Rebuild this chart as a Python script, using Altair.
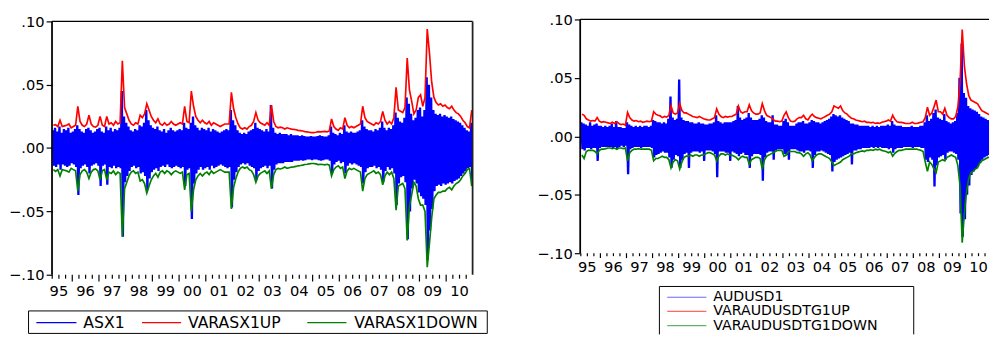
import altair as alt
import pandas as pd

FONT = "DejaVu Sans"
BLUE, RED, GREEN = "#0000FF", "#FF0000", "#008000"

# monthly observation points, Apr 1995 ... Dec 2010 (x in fractional years)
N_MONTHS = 189
month_x = [1995 + (3 + i + 0.5) / 12 for i in range(N_MONTHS)]
YEARS = list(range(1995, 2011))
YEAR_LABELS = ["95", "96", "97", "98", "99", "00", "01", "02",
               "03", "04", "05", "06", "07", "08", "09", "10"]
Y_TICKS = [-0.10, -0.05, 0.00, 0.05, 0.10]

# ---------------- left panel: ASX ----------------
asx_up = [
    .018, .0185, .017, .022, .017, .0175, .018, .019, .016,
    .017, .018, .033, .021, .018, .017, .019, .026, .019, .017, .0165, .018,
    .025, .018, .017, .025, .019, .020, .018, .021, .019, .020, .069, .032,
    .027, .022, .019, .018, .020, .019, .026, .024, .027, .035, .030, .025,
    .022, .020, .023, .019, .018, .020, .018, .019, .021, .019, .018, .019,
    .020, .019, .033, .021, .020, .045, .033, .025, .022, .020, .022, .020,
    .019, .021, .018, .020, .019, .018, .017, .018, .019, .019, .019, .044,
    .031, .024, .019, .016, .015, .016, .015, .017, .018, .021, .028, .022,
    .020, .019, .018, .020, .018, .034, .021, .017, .016, .0165, .016, .015,
    .016, .0155, .015, .0148, .0145, .014, .0138, .0135, .013, .0128, .0125, .0122,
    .0122, .0125, .013, .0128, .013, .0132, .0128, .0135, .023, .017, .015, .014,
    .016, .015, .024, .018, .016, .017, .016, .017, .018, .019, .033, .024,
    .021, .020, .019, .018, .020, .019, .021, .029, .022, .019, .021, .019,
    .024, .048, .030, .029, .028, .032, .071, .046, .037, .027, .030, .040,
    .042, .033, .040, .094, .075, .052, .040, .036, .034, .035, .033, .034,
    .032, .031, .033, .030, .028, .027, .025, .022, .020, .017, .016, .030,
]
asx_down = [
    -.017, -.0185, -.017, -.022, -.017, -.0175, -.018, -.019, -.016,
    -.017, -.018, -.034, -.021, -.018, -.017, -.019, -.024, -.019, -.017, -.0165, -.018,
    -.025, -.018, -.017, -.025, -.019, -.020, -.018, -.021, -.019, -.020, -.070, -.032,
    -.027, -.022, -.019, -.018, -.020, -.019, -.026, -.025, -.028, -.0355, -.030, -.025,
    -.022, -.020, -.023, -.019, -.018, -.020, -.018, -.019, -.021, -.019, -.018, -.019,
    -.020, -.019, -.033, -.021, -.020, -.050, -.033, -.025, -.022, -.020, -.022, -.020,
    -.019, -.021, -.018, -.020, -.019, -.018, -.017, -.018, -.019, -.019, -.019, -.048,
    -.031, -.024, -.019, -.016, -.015, -.016, -.015, -.017, -.018, -.021, -.027, -.022,
    -.020, -.019, -.018, -.020, -.018, -.032, -.021, -.017, -.016, -.0165, -.016, -.015,
    -.016, -.0155, -.015, -.0148, -.0145, -.014, -.0138, -.0135, -.013, -.0128, -.0125, -.0122,
    -.0122, -.0125, -.013, -.0128, -.013, -.0132, -.0128, -.0135, -.022, -.017, -.015, -.014,
    -.016, -.015, -.024, -.018, -.016, -.017, -.016, -.017, -.018, -.019, -.034, -.024,
    -.021, -.020, -.019, -.018, -.020, -.019, -.021, -.029, -.022, -.019, -.021, -.019,
    -.024, -.049, -.030, -.029, -.028, -.032, -.073, -.046, -.037, -.027, -.030, -.040,
    -.045, -.045, -.050, -.094, -.075, -.055, -.040, -.037, -.035, -.035, -.034, -.034,
    -.032, -.031, -.033, -.030, -.028, -.027, -.025, -.022, -.020, -.017, -.016, -.030,
]
asx_hi = [
    .014, .016, .013, .017, .012, .015, .014, .016, .012,
    .013, .015, .018, .015, .013, .012, .015, .016, .014, .012, .013, .015,
    .016, .013, .012, .017, .014, .016, .013, .015, .014, .016, .045, .025,
    .020, .017, .014, .013, .015, .014, .018, .017, .020, .030, .022, .018,
    .016, .015, .017, .014, .013, .015, .012, .014, .016, .014, .013, .014,
    .015, .014, .020, .016, .015, .020, .025, .018, .016, .014, .016, .015,
    .014, .016, .013, .015, .014, .013, .012, .013, .014, .015, .014, .030,
    .022, .018, .014, .012, .011, .012, .011, .013, .014, .015, .020, .016,
    .015, .014, .013, .015, .013, .034, .016, .012, .011, .012, .011, .011,
    .011, .010, .011, .010, .010, .010, .0095, .010, .0095, .009, .009, .0095,
    .009, .009, .0095, .010, .0095, .009, .009, .010, .017, .012, .011, .010,
    .012, .011, .018, .013, .012, .013, .012, .012, .013, .014, .022, .017,
    .015, .014, .014, .013, .015, .014, .016, .021, .016, .014, .016, .015,
    .018, .028, .024, .021, .020, .024, .040, .035, .027, .022, .024, .030,
    .032, .025, .030, .056, .050, .040, .030, .027, .026, .027, .025, .026,
    .025, .024, .025, .023, .022, .021, .020, .018, .016, .014, .013, .020,
]
asx_lo = [
    -.014, -.015, -.013, -.017, -.013, -.014, -.015, -.014, -.012,
    -.013, -.015, -.037, -.016, -.014, -.013, -.015, -.020, -.014, -.013, -.012, -.014,
    -.030, -.014, -.013, -.029, -.015, -.016, -.014, -.016, -.015, -.016, -.070, -.027,
    -.022, -.018, -.015, -.014, -.016, -.015, -.020, -.019, -.022, -.033, -.024, -.019,
    -.017, -.016, -.018, -.015, -.014, -.015, -.013, -.015, -.016, -.015, -.014, -.015,
    -.016, -.015, -.030, -.017, -.016, -.056, -.028, -.020, -.017, -.015, -.017, -.016,
    -.015, -.017, -.014, -.016, -.015, -.014, -.013, -.014, -.015, -.016, -.015, -.047,
    -.025, -.019, -.015, -.013, -.012, -.013, -.012, -.014, -.015, -.016, -.025, -.018,
    -.016, -.015, -.014, -.016, -.014, -.032, -.017, -.013, -.012, -.012, -.012, -.011,
    -.011, -.011, -.011, -.010, -.010, -.010, -.0095, -.010, -.0095, -.009, -.009, -.0095,
    -.009, -.009, -.0095, -.010, -.0095, -.009, -.009, -.010, -.020, -.013, -.011, -.010,
    -.012, -.011, -.020, -.014, -.012, -.013, -.012, -.013, -.014, -.015, -.028, -.019,
    -.016, -.015, -.015, -.014, -.016, -.015, -.017, -.027, -.018, -.015, -.017, -.016,
    -.020, -.045, -.028, -.023, -.022, -.027, -.072, -.050, -.032, -.025, -.028, -.035,
    -.038, -.040, -.045, -.088, -.065, -.048, -.034, -.030, -.029, -.030, -.028, -.029,
    -.028, -.027, -.028, -.026, -.025, -.024, -.022, -.020, -.018, -.016, -.015, -.025,
]

# ---------------- right panel: AUD/USD ----------------
aud_up = [
    .019, .018, .015, .014, .013, .0135, .013, .016, .013,
    .012, .0125, .012, .0115, .011, .012, .011, .0125, .011, .010, .0105, .0095,
    .0205, .016, .014, .013, .0135, .0125, .013, .012, .0125, .013, .0125, .013,
    .021, .019, .018, .0175, .016, .017, .0165, .018, .026, .020, .019, .020,
    .028, .022, .020, .020, .019, .018, .017, .0165, .016, .017, .016, .015,
    .0145, .014, .014, .015, .016, .0235, .019, .017, .016, .017, .0165, .017,
    .017, .018, .019, .026, .021, .020, .021, .021, .027, .022, .020, .019,
    .019, .020, .028, .022, .018, .017, .016, .0145, .013, .013, .0125, .013,
    .018, .021, .016, .013, .0125, .013, .015, .016, .016, .018, .015, .014,
    .017, .019, .017, .016, .0155, .015, .016, .017, .018, .019, .021, .026,
    .025, .024, .026, .022, .020, .019, .017, .0155, .015, .014, .0135, .013,
    .0125, .013, .012, .012, .0115, .012, .011, .0115, .011, .012, .0125, .013,
    .014, .013, .018, .0145, .0125, .012, .012, .0115, .011, .011, .011, .012,
    .011, .011, .0115, .012, .0125, .016, .025, .018, .020, .025, .031, .021,
    .021, .019, .024, .018, .016, .015, .015, .017, .025, .046, .0913, .060,
    .045, .035, .031, .030, .029, .028, .025, .022, .021, .020, .019, .018,
]
aud_down = [
    -.016, -.019, -.013, -.012, -.012, -.012, -.013, -.015, -.012,
    -.011, -.011, -.0105, -.010, -.010, -.0105, -.010, -.011, -.010, -.010, -.0105, -.010,
    -.021, -.014, -.012, -.011, -.011, -.0105, -.011, -.011, -.011, -.011, -.011, -.012,
    -.021, -.019, -.019, -.018, -.017, -.018, -.018, -.020, -.027, -.022, -.020, -.021,
    -.028, -.022, -.018, -.017, -.017, -.016, -.017, -.016, -.016, -.017, -.016, -.016,
    -.015, -.014, -.014, -.015, -.016, -.021, -.017, -.015, -.015, -.016, -.015, -.016,
    -.016, -.017, -.018, -.020, -.018, -.017, -.018, -.018, -.024, -.020, -.019, -.018,
    -.018, -.019, -.028, -.020, -.017, -.016, -.015, -.014, -.013, -.012, -.012, -.012,
    -.017, -.016, -.013, -.013, -.013, -.013, -.014, -.014, -.015, -.017, -.015, -.014,
    -.016, -.021, -.018, -.016, -.015, -.015, -.016, -.017, -.018, -.019, -.022, -.025,
    -.024, -.023, -.022, -.020, -.019, -.018, -.017, -.015, -.015, -.014, -.0135, -.013,
    -.0125, -.013, -.012, -.012, -.0115, -.012, -.011, -.0115, -.011, -.012, -.0125, -.013,
    -.014, -.013, -.017, -.0145, -.013, -.012, -.012, -.0115, -.011, -.011, -.011, -.011,
    -.011, -.011, -.0115, -.012, -.013, -.022, -.030, -.022, -.024, -.028, -.031, -.022,
    -.021, -.020, -.021, -.018, -.017, -.016, -.017, -.018, -.025, -.0425, -.091, -.066,
    -.047, -.036, -.031, -.030, -.028, -.027, -.023, -.021, -.020, -.019, -.018, -.018,
]
aud_hi = [
    .012, .011, .010, .009, .012, .009, .010, .011, .009,
    .009, .008, .009, .008, .009, .011, .008, .013, .008, .008, .007, .007,
    .012, .010, .009, .008, .009, .008, .009, .008, .009, .009, .008, .009,
    .014, .013, .012, .012, .011, .012, .011, .015, .034, .016, .014, .015,
    .0487, .016, .014, .013, .013, .012, .012, .011, .011, .012, .011, .011,
    .010, .010, .011, .011, .012, .018, .013, .012, .011, .012, .012, .012,
    .012, .013, .014, .026, .016, .014, .015, .016, .020, .016, .014, .014,
    .014, .015, .018, .016, .013, .012, .012, .018, .010, .010, .009, .009,
    .013, .015, .012, .009, .009, .009, .011, .012, .012, .013, .011, .011,
    .012, .014, .013, .012, .012, .011, .012, .013, .014, .015, .017, .019,
    .018, .017, .018, .016, .015, .014, .013, .011, .011, .010, .010, .009,
    .009, .009, .009, .009, .008, .009, .008, .009, .008, .009, .009, .009,
    .010, .009, .013, .010, .009, .009, .009, .008, .008, .008, .008, .009,
    .008, .008, .008, .009, .009, .012, .018, .013, .015, .020, .023, .016,
    .015, .014, .019, .013, .012, .011, .012, .013, .020, .050, .0795, .037,
    .033, .026, .024, .023, .022, .021, .019, .017, .016, .015, .014, .013,
]
aud_lo = [
    -.011, -.012, -.010, -.010, -.011, -.010, -.010, -.021, -.010,
    -.009, -.009, -.009, -.009, -.009, -.010, -.009, -.011, -.009, -.008, -.009, -.008,
    -.0325, -.011, -.010, -.009, -.009, -.009, -.010, -.009, -.009, -.009, -.009, -.010,
    -.018, -.016, -.015, -.014, -.013, -.014, -.014, -.018, -.027, -.020, -.016, -.017,
    -.027, -.020, -.015, -.014, -.027, -.014, -.013, -.013, -.013, -.014, -.013, -.021,
    -.012, -.012, -.012, -.013, -.015, -.035, -.013, -.013, -.013, -.014, -.014, -.021,
    -.013, -.014, -.015, -.017, -.015, -.014, -.016, -.016, -.027, -.017, -.015, -.015,
    -.015, -.016, -.038, -.018, -.014, -.013, -.013, -.020, -.012, -.011, -.011, -.011,
    -.015, -.016, -.020, -.011, -.011, -.011, -.012, -.013, -.013, -.014, -.012, -.012,
    -.013, -.027, -.016, -.013, -.013, -.012, -.013, -.014, -.015, -.016, -.030, -.022,
    -.020, -.019, -.018, -.017, -.016, -.015, -.014, -.024, -.012, -.012, -.011, -.011,
    -.010, -.010, -.010, -.010, -.009, -.010, -.009, -.010, -.009, -.010, -.010, -.010,
    -.011, -.010, -.014, -.011, -.010, -.010, -.010, -.009, -.009, -.009, -.009, -.010,
    -.009, -.009, -.009, -.010, -.010, -.020, -.022, -.018, -.020, -.043, -.025, -.018,
    -.017, -.016, -.020, -.014, -.013, -.013, -.014, -.015, -.020, -.066, -.086, -.071,
    -.050, -.042, -.033, -.030, -.028, -.026, -.023, -.020, -.018, -.017, -.016, -.015,
]

for lst in (asx_up, asx_down, asx_hi, asx_lo, aud_up, aud_down, aud_hi, aud_lo):
    assert len(lst) == N_MONTHS, len(lst)


def series_frame(vals):
    return pd.DataFrame({"x": month_x, "v": vals})


def zigzag_frame(hi, lo):
    xs, vs = [], []
    for x, h, l in zip(month_x, hi, lo):
        xs.extend([x - 1 / 48, x + 1 / 48])
        vs.extend([h, l])
    return pd.DataFrame({"x": xs, "v": vs})


ONE = pd.DataFrame({"k": [0]})


def panel(up, down, hi, lo, width, height, x_domain, y_top, major_len, minor_len,
          label_pad, right_border, legend_layers):
    xs = alt.Scale(domain=x_domain, nice=False, zero=False)
    ys = alt.Scale(domain=[-0.1, y_top], nice=False, zero=False)
    x_enc = alt.X("x:Q", scale=xs, axis=alt.Axis(
        values=[y + 0.5 for y in YEARS], labels=False,
        ticks=False, grid=False, domain=True, domainColor="black",
        domainWidth=1.5, title=None))
    y_enc = alt.Y("v:Q", scale=ys, axis=alt.Axis(
        values=Y_TICKS, labelExpr="replace(format(datum.value, '.2f'), '0.', '.')",
        ticks=True, tickSize=6, tickColor="black", tickWidth=1.2, grid=False,
        domain=False, labelFont=FONT, labelFontSize=15, labelColor="black",
        labelPadding=2, labelOverlap=False, labelFlush=False, title=None))

    blue = alt.Chart(zigzag_frame(hi, lo)).mark_line(
        color=BLUE, strokeWidth=2.4, clip=True).encode(x=x_enc, y=y_enc)
    red = alt.Chart(series_frame(up)).mark_line(
        color=RED, strokeWidth=1.7, clip=True).encode(x=x_enc, y=y_enc)
    green = alt.Chart(series_frame(down)).mark_line(
        color=GREEN, strokeWidth=1.7, clip=True).encode(x=x_enc, y=y_enc)

    quarters = [y + q for y in YEARS + [2011] for q in (0, 0.25, 0.5, 0.75)]
    quarters = [t for t in quarters if x_domain[0] <= t <= x_domain[1]]
    major = pd.DataFrame({"x": [t for t in quarters if t == int(t)]})
    minor = pd.DataFrame({"x": [t for t in quarters if t != int(t)]})
    tick_major = alt.Chart(major).mark_rule(color="black", strokeWidth=1.2).encode(
        x=alt.X("x:Q", scale=xs, axis=None),
        y=alt.value(height), y2=alt.value(height + major_len))
    tick_minor = alt.Chart(minor).mark_rule(color="black", strokeWidth=1.2).encode(
        x=alt.X("x:Q", scale=xs, axis=None),
        y=alt.value(height), y2=alt.value(height + minor_len))

    lab_df = pd.DataFrame({"x": [y + 0.5 for y in YEARS], "lab": YEAR_LABELS})
    labels = alt.Chart(lab_df).mark_text(
        align="center", baseline="top", font=FONT, fontSize=15, color="black").encode(
        x=alt.X("x:Q", scale=xs, axis=None), y=alt.value(height + label_pad),
        text="lab:N")

    frame = [
        alt.Chart(ONE).mark_rule(color="black", strokeWidth=1.3).encode(
            x=alt.value(0), x2=alt.value(width), y=alt.YDatum(0.1, scale=ys)),
        alt.Chart(ONE).mark_rule(color="black", strokeWidth=1.8).encode(
            x=alt.value(0), y=alt.YDatum(0.1, scale=ys), y2=alt.value(height)),
    ]
    if right_border:
        frame.append(alt.Chart(ONE).mark_rule(color="#222222", strokeWidth=1.8).encode(
            x=alt.value(width), y=alt.YDatum(0.1, scale=ys), y2=alt.value(height)))

    return alt.layer(blue, red, green, tick_major, tick_minor, labels, *frame,
                     *legend_layers).properties(width=width, height=height)


def legend_items(items, box, font_size=16, line_w=1.3, opacity=1.0, open_bottom=False):
    layers = []
    x0, x1, y0, y1 = box
    if open_bottom:
        for enc in (dict(x=alt.value(x0), x2=alt.value(x1), y=alt.value(y0)),
                    dict(x=alt.value(x0), y=alt.value(y0), y2=alt.value(y1)),
                    dict(x=alt.value(x1), y=alt.value(y0), y2=alt.value(y1))):
            layers.append(alt.Chart(ONE).mark_rule(color="black", strokeWidth=1).encode(**enc))
    else:
        layers.append(alt.Chart(ONE).mark_rect(
            fillOpacity=0, stroke="black", strokeWidth=1).encode(
            x=alt.value(x0), x2=alt.value(x1), y=alt.value(y0), y2=alt.value(y1)))
    for label, color, lx0, lx1, tx, y in items:
        layers.append(alt.Chart(ONE).mark_rule(
            color=color, strokeWidth=line_w, opacity=opacity).encode(
            x=alt.value(lx0), x2=alt.value(lx1), y=alt.value(y)))
        layers.append(alt.Chart(ONE).mark_text(
            align="left", baseline="middle", font=FONT, fontSize=font_size,
            color="black").encode(
            x=alt.value(tx), y=alt.value(y), text=alt.value(label)))
    return layers


left_legend = legend_items(
    [("ASX1", BLUE, -16, 25, 32, 310),
     ("VARASX1UP", RED, 92, 132, 139, 310),
     ("VARASX1DOWN", GREEN, 261, 301, 309, 310)],
    box=(-24, 445, 298, 321))

right_legend = legend_items(
    [("AUDUSD1", BLUE, 89, 129, 136, 284),
     ("VARAUDUSDTG1UP", RED, 89, 129, 136, 298.5),
     ("VARAUDUSDTG1DOWN", GREEN, 89, 129, 136, 313)],
    box=(81, 341, 273, 322), font_size=14.5, line_w=1.2, opacity=0.6,
    open_bottom=True)

left = panel(asx_up, asx_down, asx_hi, asx_lo, width=430, height=261,
             x_domain=[1995.242, 2010.99], y_top=0.101544,
             major_len=7, minor_len=4, label_pad=10, right_border=True,
             legend_layers=left_legend)
right = panel(aud_up, aud_down, aud_hi, aud_lo, width=418, height=239,
              x_domain=[1995.225, 2010.904], y_top=0.1,
              major_len=5, minor_len=3, label_pad=7, right_border=False,
              legend_layers=right_legend)

chart = alt.hconcat(left, right, spacing=49).properties(
    padding={"left": 0, "top": 0, "right": 0, "bottom": 0},
    background="white",
).configure_view(stroke="transparent")

chart.save("out.html", embed_options={"renderer": "svg", "actions": False})
